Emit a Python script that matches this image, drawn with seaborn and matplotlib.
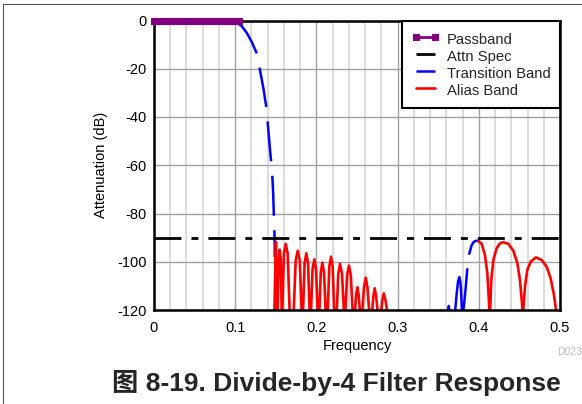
import matplotlib
matplotlib.use("Agg")
import matplotlib.pyplot as plt
from matplotlib.lines import Line2D
import seaborn as sns

# ---- data (frequency normalised, dB) ----
passband_freq = [0.000, 0.005, 0.010, 0.015, 0.020, 0.025, 0.030, 0.035, 0.040,
                 0.045, 0.050, 0.055, 0.060, 0.065, 0.070, 0.075, 0.080, 0.085,
                 0.090, 0.095, 0.100, 0.105]
passband_db = [0.0] * len(passband_freq)

spec_freq = [0.0, 0.5]
spec_db = [-90.0, -90.0]

transition_freq = [0.1000, 0.1019, 0.1080, 0.1142, 0.1203, 0.1265, 0.1305, 0.1351,
                   0.1388, 0.1408, 0.1429, 0.1453, 0.1466, 0.1474, 0.1482, 0.1486,
                   0.1487]
transition_db = [0.0, -0.9, -2.3, -5.1, -8.8, -13.6, -20.5, -28.8,
                 -37.1, -45.4, -53.7, -62.0, -70.2, -78.5, -86.8, -92.0,
                 -98.0]

# aliased image of the transition band, two visible pieces
transition2a_freq = [0.3590, 0.3613, 0.3629, 0.3645, 0.3670, 0.3707, 0.3728, 0.3745,
                     0.3760, 0.3772, 0.3781, 0.3793, 0.3800, 0.3809, 0.3835, 0.3858]
transition2a_db = [-124.0, -121.0, -118.3, -121.0, -126.0, -121.0, -113.1, -108.0,
                   -106.4, -108.0, -111.7, -121.0, -124.0, -121.0, -112.0, -103.1]
transition2b_freq = [0.3883, 0.3912, 0.3940, 0.3966, 0.3994]
transition2b_db = [-96.7, -93.1, -91.7, -91.3, -91.4]

alias1_freq = [0.1482, 0.1502, 0.1511,
               0.1523, 0.1535, 0.1548, 0.1561, 0.1573,
               0.1580, 0.1600, 0.1622, 0.1646, 0.1671,
               0.1720, 0.1745, 0.1770, 0.1795, 0.1819,
               0.1835, 0.1855, 0.1876, 0.1897, 0.1917,
               0.1933, 0.1953, 0.1974, 0.1995, 0.2016,
               0.2036, 0.2054, 0.2073, 0.2094, 0.2115,
               0.2139, 0.2159, 0.2180, 0.2200, 0.2220,
               0.2250, 0.2270, 0.2291, 0.2315, 0.2340,
               0.2356, 0.2378, 0.2401, 0.2424, 0.2447,
               0.2475, 0.2489, 0.2504, 0.2520, 0.2537,
               0.2565, 0.2586, 0.2607, 0.2629, 0.2651,
               0.2685, 0.2701, 0.2718, 0.2736, 0.2755,
               0.2796, 0.2812, 0.2829, 0.2851, 0.2873]
alias1_db = [-121.0, -91.8, -121.0,
             -121.0, -99.0, -95.0, -99.0, -121.0,
             -121.0, -96.6, -92.6, -96.6, -121.0,
             -121.0, -99.5, -95.5, -99.5, -121.0,
             -121.0, -100.5, -96.5, -100.5, -121.0,
             -121.0, -103.0, -99.0, -103.0, -121.0,
             -121.0, -104.4, -100.4, -104.4, -121.0,
             -121.0, -101.9, -97.9, -101.9, -121.0,
             -121.0, -104.9, -100.9, -104.9, -121.0,
             -121.0, -105.6, -101.6, -105.6, -121.0,
             -121.0, -113.6, -110.6, -113.6, -121.0,
             -121.0, -110.6, -106.6, -110.6, -121.0,
             -121.0, -114.5, -111.0, -114.5, -121.0,
             -121.0, -116.0, -113.1, -116.0, -121.0]

alias2_freq = [0.3994, 0.4036, 0.4076, 0.4105, 0.4122, 0.4129, 0.4134,
               0.4140, 0.4154, 0.4179, 0.4220, 0.4261, 0.4300, 0.4364, 0.4425,
               0.4475, 0.4507, 0.4532, 0.4536, 0.4542,
               0.4548, 0.4569, 0.4597, 0.4639, 0.4704, 0.4775, 0.4836, 0.4885,
               0.4926, 0.4951, 0.4970, 0.5000]
alias2_db = [-91.4, -92.6, -97.2, -104.8, -114.5, -120.0, -126.0,
             -120.0, -107.6, -99.3, -94.4, -92.4, -91.9, -92.6, -95.4,
             -100.7, -107.6, -117.2, -120.0, -126.0,
             -120.0, -110.3, -103.4, -100.0, -98.2, -99.3, -102.1, -106.9,
             -113.8, -120.0, -125.0, -125.0]

x_ticks = [0.0, 0.1, 0.2, 0.3, 0.4, 0.5]
x_tick_labels = ["0", "0.1", "0.2", "0.3", "0.4", "0.5"]
y_ticks = [0, -20, -40, -60, -80, -100, -120]
y_tick_labels = ["0", "-20", "-40", "-60", "-80", "-100", "-120"]

PURPLE = "#800080"
BLUE = "#0000ff"
RED = "#ff0000"

sns.set_theme(style="white")
plt.rcParams["font.family"] = ["Liberation Sans", "DejaVu Sans"]

fig = plt.figure(figsize=(5.82, 4.04), dpi=100)
ax = fig.add_axes([154 / 582, 1 - 310 / 404, 406 / 582, 289.5 / 404])

# grid
ax.set_axisbelow(True)
ax.set_xticks([0.02 * i for i in range(26)], minor=True)
ax.grid(which="minor", axis="x", color="#dcdcdc", lw=1.4)
ax.grid(which="major", axis="x", color="#a0a0a0", lw=1.0)
ax.grid(which="major", axis="y", color="#a0a0a0", lw=1.0)

line_kw = dict(ax=ax, estimator=None, sort=False, errorbar=None)

sns.lineplot(x=transition_freq, y=transition_db, color=BLUE, lw=1.8,
             linestyle=(0, (16, 5.8)), label="Transition Band", zorder=2, **line_kw)
sns.lineplot(x=transition2a_freq, y=transition2a_db, color=BLUE, lw=1.8, zorder=2, **line_kw)
sns.lineplot(x=transition2b_freq, y=transition2b_db, color=BLUE, lw=1.8, zorder=2, **line_kw)
sns.lineplot(x=alias1_freq, y=alias1_db, color=RED, lw=1.9, label="Alias Band", zorder=2, **line_kw)
sns.lineplot(x=alias2_freq, y=alias2_db, color=RED, lw=1.9, zorder=2, **line_kw)
sns.lineplot(x=spec_freq, y=spec_db, color="black", lw=2.0,
             linestyle=(0, (9.7, 3.6, 2.5, 3.6)), label="Attn Spec", zorder=2.2, **line_kw)
sns.lineplot(x=passband_freq, y=passband_db, color=PURPLE, lw=2.0, marker="s",
             markersize=4.5, markeredgecolor=PURPLE, markerfacecolor=PURPLE,
             markeredgewidth=0.8, label="Passband", zorder=3, clip_on=False, **line_kw)

ax.set_xlim(0, 0.5)
ax.set_ylim(-120, 0)
ax.set_xticks(x_ticks)
ax.set_xticklabels(x_tick_labels)
ax.set_yticks(y_ticks)
ax.set_yticklabels(y_tick_labels)
ax.tick_params(axis="both", which="both", length=0, labelsize=10.5, colors="black")
ax.tick_params(axis="x", pad=8)
ax.tick_params(axis="y", pad=5)

for sp in ax.spines.values():
    sp.set_color("black")
    sp.set_linewidth(1.8)
    sp.set_visible(True)

ax.set_xlabel("Frequency", fontsize=10.5, labelpad=3, color="black")
ax.set_ylabel("Attenuation (dB)", fontsize=10.5, labelpad=7, color="black")

handles, labels = ax.get_legend_handles_labels()
order = ["Passband", "Attn Spec", "Transition Band", "Alias Band"]
hmap = dict(zip(labels, handles))
leg = ax.legend([hmap[k] for k in order], order, loc="upper right",
                borderaxespad=0, fancybox=False, framealpha=1, edgecolor="black",
                numpoints=2, handlelength=1.88, handleheight=1.383, handletextpad=0.5,
                borderpad=0.65, labelspacing=0.0, fontsize=10.7)
leg.get_frame().set_linewidth(1.5)

fig.text(557 / 582, 1 - 352 / 404, "D023", fontsize=7.5, color="#bbbbbb",
         ha="left", va="center")
fig.text(336.5 / 582, 1 - 383 / 404, "图 8-19. Divide-by-4 Filter Response",
         fontsize=19, fontweight="bold", ha="center", va="center",
         family=["Liberation Sans", "Noto Sans CJK SC"])

# thin page border on the left and top edges
fig.add_artist(Line2D([3 / 582, 3 / 582], [0, 1 - 4 / 404], transform=fig.transFigure,
                      color="#555555", lw=0.8))
fig.add_artist(Line2D([3 / 582, 1], [1 - 4 / 404, 1 - 4 / 404], transform=fig.transFigure,
                      color="#555555", lw=0.8))

fig.savefig("out.png", dpi=100)
plt.close(fig)
